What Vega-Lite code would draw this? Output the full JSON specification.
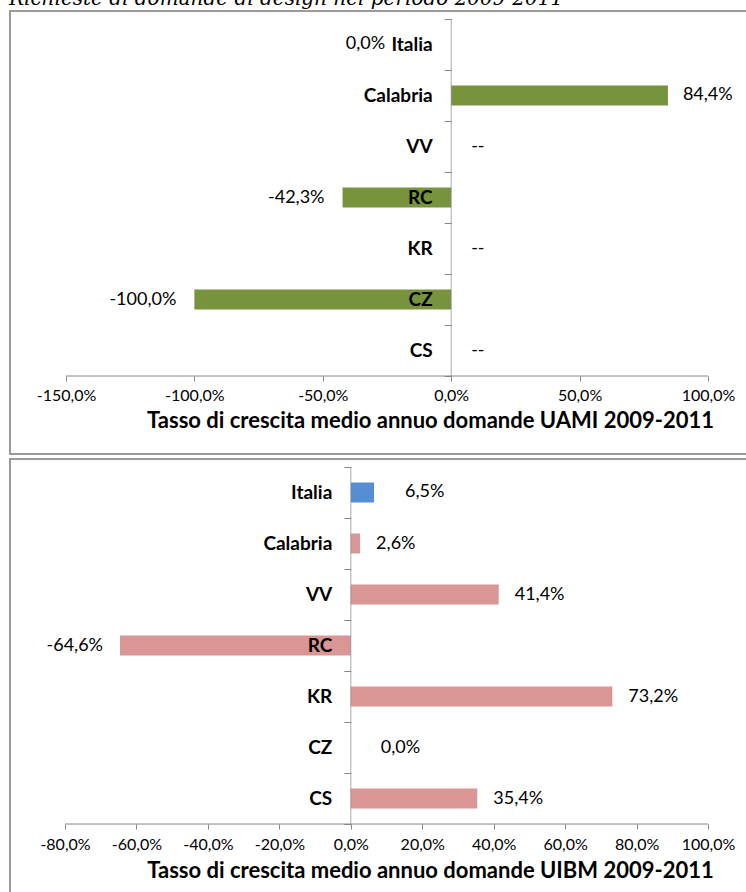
{
  "$schema": "https://vega.github.io/schema/vega-lite/v6.json",
  "padding": {"left": 9, "top": -11, "right": 0, "bottom": 0},
  "background": "white",
  "title": {"text": "Richieste di domande di design nel periodo 2009-2011", "anchor": "start", "font": "DejaVu Serif", "fontStyle": "italic", "fontWeight": "normal", "fontSize": 20, "color": "black", "offset": -24, "baseline": "alphabetic"},
  "spacing": -6,
  "config": {
    "view": {"stroke": "#9a9a9a", "strokeWidth": 2},
    "font": "Lato",
    "axis": {"labelFont": "Lato", "titleFont": "Lato", "grid": false, "minExtent": 0}
  },
  "vconcat": [
    {
      "width": 737,
      "height": 443,
      "data": {"values": [
        {"region": "Italia", "v": 0},
        {"region": "Calabria", "v": 84.4},
        {"region": "VV", "v": null},
        {"region": "RC", "v": -42.3},
        {"region": "KR", "v": null},
        {"region": "CZ", "v": -100},
        {"region": "CS", "v": null}
      ]},
      "transform": [{"calculate": "datum.v == null ? '--' : (datum.v < 0 ? '-' : '') + replace(format(abs(datum.v), '.1f'), '.', ',') + '%'", "as": "lbl"}],
      "encoding": {
        "y": {"field": "region", "type": "nominal", "sort": null,
          "scale": {"domain": ["Italia", "Calabria", "VV", "RC", "KR", "CZ", "CS"], "paddingInner": 0, "paddingOuter": 0.843, "align": 0.093},
          "axis": {"title": null, "orient": "left", "offset": -441.2, "domain": false, "tickBand": "extent", "tickSize": 7, "tickColor": "#868686", "labelFontSize": 19, "labelFontWeight": "bold", "labelColor": "black", "labelPadding": 12, "zindex": 1}
        }
      },
      "layer": [
        {
          "mark": {"type": "bar", "height": {"band": 0.392}, "color": "#77933C"},
          "encoding": {
            "x": {"field": "v", "type": "quantitative",
              "scale": {"domain": [-171.8, 115.2], "nice": false, "zero": false},
              "axis": {"orient": "bottom", "offset": -78, "values": [-150, -100, -50, 0, 50, 100], "domain": false, "tickSize": 5, "tickColor": "#868686", "labelFontSize": 16, "labelColor": "black", "labelPadding": 6, "labelExpr": "(datum.value < 0 ? '-' : '') + replace(format(abs(datum.value), '.1f'), '.', ',') + '%'", "title": "Tasso di crescita medio annuo domande UAMI 2009-2011", "titleFontSize": 22, "titleFontWeight": "bold", "titleColor": "black", "titlePadding": 7, "titleX": 420, "titleAlign": "center"}
            },
            "x2": {"datum": 0}
          }
        },
        {
          "mark": {"type": "tick", "size": 51, "thickness": 1, "color": "#868686"},
          "encoding": {"x": {"datum": 0}}
        },
        {
          "transform": [{"filter": "datum.region == 'CS'"}],
          "mark": {"type": "rule", "color": "#868686", "strokeWidth": 1},
          "encoding": {"x": {"datum": -150}, "x2": {"datum": 100}, "y": {"field": "region", "type": "nominal", "bandPosition": 1}}
        },
        {
          "transform": [{"filter": "datum.v != null && datum.v > 0"}],
          "mark": {"type": "text", "align": "left", "baseline": "middle", "dx": 15, "fontSize": 18, "color": "black"},
          "encoding": {"x": {"field": "v", "type": "quantitative"}, "text": {"field": "lbl"}}
        },
        {
          "transform": [{"filter": "datum.v != null && datum.v < 0"}],
          "mark": {"type": "text", "align": "right", "baseline": "middle", "dx": -18, "fontSize": 18, "color": "black"},
          "encoding": {"x": {"field": "v", "type": "quantitative"}, "text": {"field": "lbl"}}
        },
        {
          "transform": [{"filter": "datum.v == null"}],
          "mark": {"type": "text", "align": "left", "baseline": "middle", "dx": 20, "fontSize": 18, "color": "black"},
          "encoding": {"x": {"datum": 0}, "text": {"field": "lbl"}}
        },
        {
          "transform": [{"filter": "datum.region == 'Italia'"}],
          "mark": {"type": "text", "align": "right", "baseline": "middle", "dx": -66, "fontSize": 18, "color": "black"},
          "encoding": {"x": {"datum": 0}, "text": {"field": "lbl"}}
        }
      ]
    },
    {
      "width": 737,
      "height": 437,
      "data": {"values": [
        {"region": "Italia", "v": 6.5},
        {"region": "Calabria", "v": 2.6},
        {"region": "VV", "v": 41.4},
        {"region": "RC", "v": -64.6},
        {"region": "KR", "v": 73.2},
        {"region": "CZ", "v": 0.0},
        {"region": "CS", "v": 35.4}
      ]},
      "transform": [{"calculate": "(datum.v < 0 ? '-' : '') + replace(format(abs(datum.v), '.1f'), '.', ',') + '%'", "as": "lbl"}],
      "encoding": {
        "y": {"field": "region", "type": "nominal", "sort": null,
          "scale": {"domain": ["Italia", "Calabria", "VV", "RC", "KR", "CZ", "CS"], "paddingInner": 0, "paddingOuter": 0.784, "align": 0.1},
          "axis": {"title": null, "orient": "left", "offset": -340.8, "domain": false, "tickBand": "extent", "tickSize": 7, "tickColor": "#868686", "labelFontSize": 19, "labelFontWeight": "bold", "labelColor": "black", "labelPadding": 12, "zindex": 1}
        }
      },
      "layer": [
        {
          "mark": {"type": "bar", "height": {"band": 0.392}},
          "encoding": {
            "x": {"field": "v", "type": "quantitative",
              "scale": {"domain": [-95.4, 110.9], "nice": false, "zero": false},
              "axis": {"orient": "bottom", "offset": -72, "values": [-80, -60, -40, -20, 0, 20, 40, 60, 80, 100], "domain": false, "tickSize": 5, "tickColor": "#868686", "labelFontSize": 16, "labelColor": "black", "labelPadding": 7, "labelExpr": "(datum.value < 0 ? '-' : '') + replace(format(abs(datum.value), '.1f'), '.', ',') + '%'", "title": "Tasso di crescita medio annuo domande UIBM 2009-2011", "titleFontSize": 22, "titleFontWeight": "bold", "titleColor": "black", "titlePadding": 8, "titleX": 420, "titleAlign": "center"}
            },
            "x2": {"datum": 0},
            "color": {"condition": {"test": "datum.region == 'Italia'", "value": "#558ED5"}, "value": "#D99694"}
          }
        },
        {
          "mark": {"type": "tick", "size": 51, "thickness": 1, "color": "#868686"},
          "encoding": {"x": {"datum": 0}}
        },
        {
          "transform": [{"filter": "datum.region == 'CS'"}],
          "mark": {"type": "rule", "color": "#868686", "strokeWidth": 1},
          "encoding": {"x": {"datum": -80}, "x2": {"datum": 100}, "y": {"field": "region", "type": "nominal", "bandPosition": 1}}
        },
        {
          "transform": [{"filter": "datum.v > 0 && datum.region != 'Italia'"}],
          "mark": {"type": "text", "align": "left", "baseline": "middle", "dx": 16, "fontSize": 18, "color": "black"},
          "encoding": {"x": {"field": "v", "type": "quantitative"}, "text": {"field": "lbl"}}
        },
        {
          "transform": [{"filter": "datum.region == 'Italia'"}],
          "mark": {"type": "text", "align": "left", "baseline": "middle", "dx": 31, "fontSize": 18, "color": "black"},
          "encoding": {"x": {"field": "v", "type": "quantitative"}, "text": {"field": "lbl"}}
        },
        {
          "transform": [{"filter": "datum.v == 0"}],
          "mark": {"type": "text", "align": "left", "baseline": "middle", "dx": 30, "fontSize": 18, "color": "black"},
          "encoding": {"x": {"datum": 0}, "text": {"field": "lbl"}}
        },
        {
          "transform": [{"filter": "datum.v < 0"}],
          "mark": {"type": "text", "align": "right", "baseline": "middle", "dx": -17, "fontSize": 18, "color": "black"},
          "encoding": {"x": {"field": "v", "type": "quantitative"}, "text": {"field": "lbl"}}
        }
      ]
    }
  ]
}
